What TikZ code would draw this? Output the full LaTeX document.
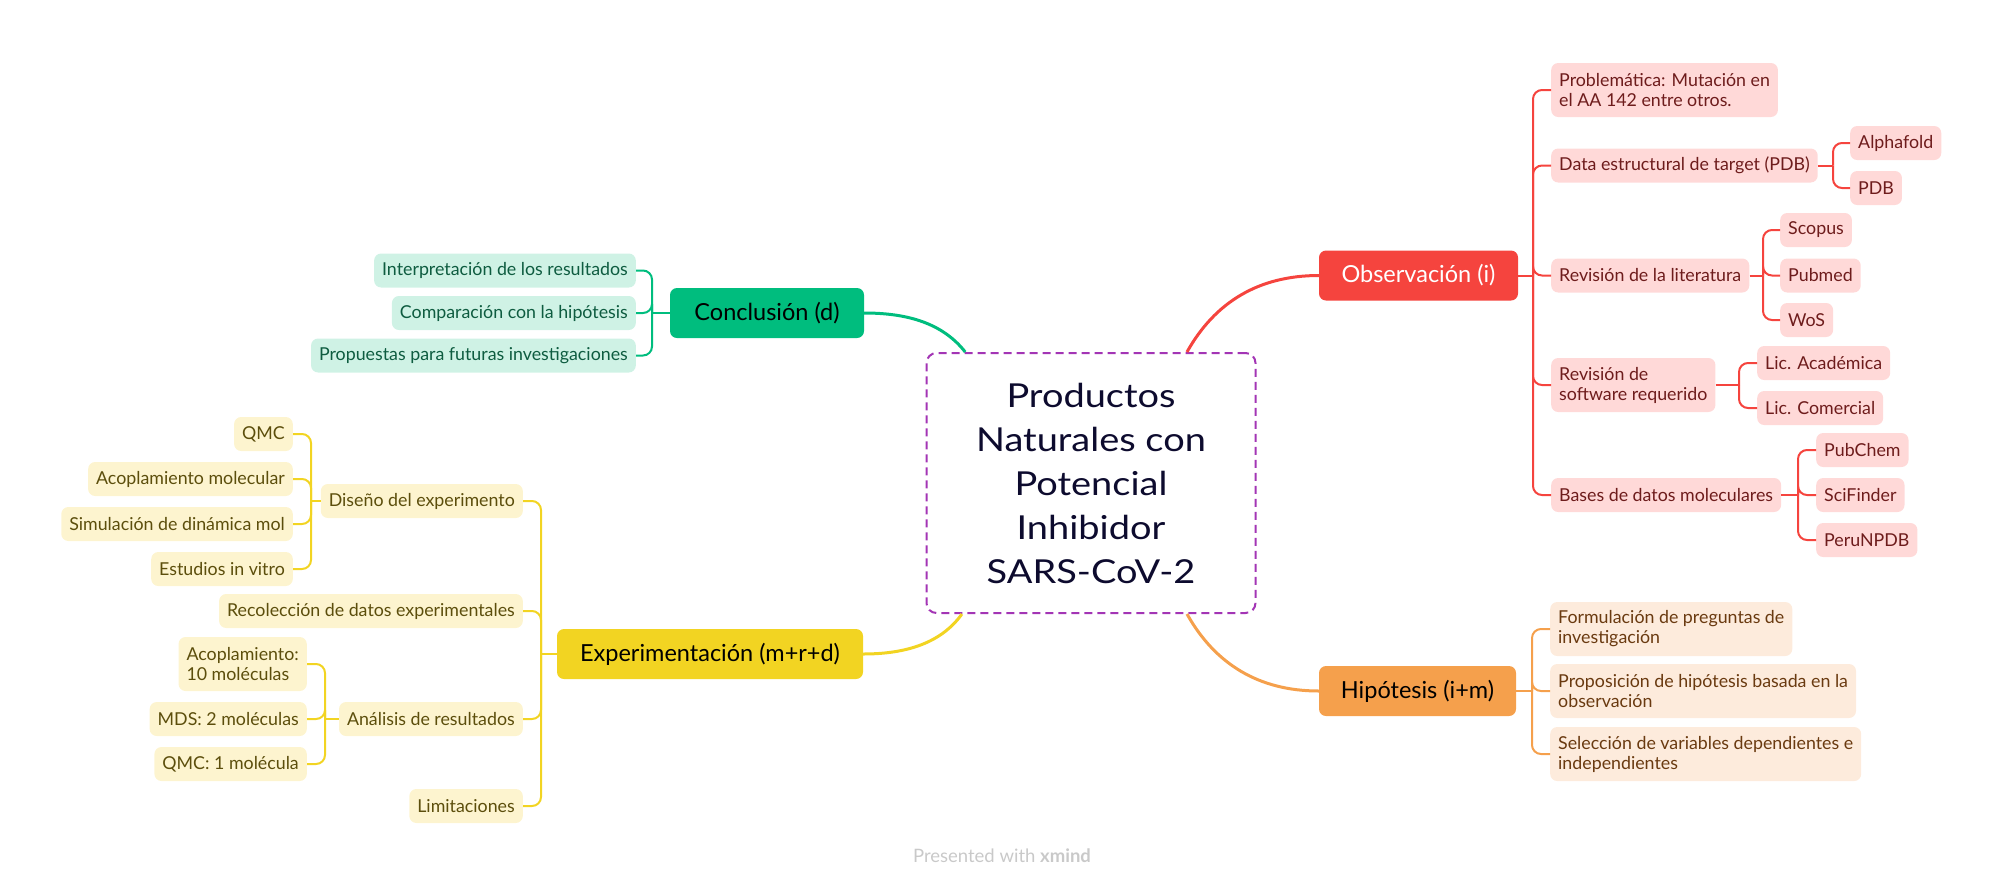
\documentclass[tikz,border=0pt]{standalone}
\usepackage{fontspec}
\setmainfont{Lato}
\newfontfamily\centralfont[FakeStretch=1.15]{Lato}
\usetikzlibrary{calc}
\definecolor{obsred}{HTML}{F5443E}
\definecolor{rfill}{HTML}{FFD9D8}
\definecolor{rtext}{HTML}{6E1C1C}
\definecolor{hyporange}{HTML}{F5A04C}
\definecolor{ofill}{HTML}{FDEBDC}
\definecolor{otext}{HTML}{6A3A10}
\definecolor{congreen}{HTML}{00BD7E}
\definecolor{gfill}{HTML}{CFF2E5}
\definecolor{gtext}{HTML}{0E5C40}
\definecolor{expyellow}{HTML}{F2D422}
\definecolor{yfill}{HTML}{FDF4CF}
\definecolor{ytext}{HTML}{5C4E0C}
\definecolor{purp}{HTML}{A335B5}
\definecolor{navy}{HTML}{0D0B2E}
\definecolor{footgray}{HTML}{C9C9C9}
\begin{document}
\begin{tikzpicture}[x=1pt,y=-1pt,
  leaf/.style={font=\fontsize{17.8}{20}\selectfont, rounded corners=7pt, inner xsep=8pt, inner ysep=7pt, minimum height=34pt, align=left},
  rleaf/.style={leaf, fill=rfill, text=rtext, anchor=west},
  oleaf/.style={leaf, fill=ofill, text=otext, anchor=west},
  gleaf/.style={leaf, fill=gfill, text=gtext, anchor=east},
  yleaf/.style={leaf, fill=yfill, text=ytext, anchor=east},
  topic/.style={font=\fontsize{23.5}{26}\selectfont, rounded corners=7pt, minimum height=50pt, inner sep=0pt, align=center},
  central/.style={draw=purp, dash pattern=on 8pt off 5pt, line width=2pt, rounded corners=10pt, fill=white, minimum width=329pt, minimum height=260pt, inner sep=0pt, align=center, font=\centralfont\fontsize{33}{44}\selectfont, text=navy},
  rlink/.style={draw=obsred, line width=2pt, rounded corners=9pt},
  olink/.style={draw=hyporange, line width=2pt, rounded corners=9pt},
  glink/.style={draw=congreen, line width=2pt, rounded corners=9pt},
  ylink/.style={draw=expyellow, line width=2pt, rounded corners=9pt},
  mainlink/.style={line width=3pt}
]
\useasboundingbox (0,0) rectangle (2006,887);

% central
\node[central] (c) at (1091,483) {Productos\\Naturales con\\Potencial\\Inhibidor\\SARS-CoV-2};

% main topics
\node[topic, fill=obsred, text=white, minimum width=199pt] (obs) at (1418.5,275.5) {Observación (i)};
\node[topic, fill=hyporange, text=black, minimum width=197pt] (hyp) at (1417.5,691) {Hipótesis (i+m)};
\node[topic, fill=congreen, text=black, minimum width=194pt] (con) at (767,313) {Conclusión (d)};
\node[topic, fill=expyellow, text=black, minimum width=306pt] (exp) at (710,654) {Experimentación (m+r+d)};

% main connectors
\coordinate (cNE) at ($(c.north west)!0.79!(c.north east)$);
\coordinate (cNW) at ($(c.north west)!0.12!(c.north east)$);
\coordinate (cSE) at ($(c.south west)!0.79!(c.south east)$);
\coordinate (cSW) at ($(c.south west)!0.11!(c.south east)$);
\draw[mainlink, obsred] (cNE) .. controls +(28,-50) and +(-60,0) .. (obs.west);
\draw[mainlink, hyporange] (cSE) .. controls +(28,50) and +(-60,0) .. (hyp.west);
\draw[mainlink, congreen] (cNW) .. controls +(-22,-28) and +(45,0) .. (con.east);
\draw[mainlink, expyellow] (cSW) .. controls +(-20,28) and +(45,0) .. (exp.east);

% ---------------- Observacion
\node[rleaf, minimum height=54pt] (prob) at (1551,90) {Problemática: Mutación en\\el AA 142 entre otros.};
\node[rleaf] (data) at (1551,165.5) {Data estructural de target (PDB)};
\node[rleaf] (alpha) at (1850,143) {Alphafold};
\node[rleaf] (pdb) at (1850,188) {PDB};
\node[rleaf] (revlit) at (1551,275.5) {Revisión de la literatura};
\node[rleaf] (scopus) at (1780,230) {Scopus};
\node[rleaf] (pubmed) at (1780,275.5) {Pubmed};
\node[rleaf] (wos) at (1780,320) {WoS};
\node[rleaf, minimum height=54pt] (soft) at (1551,385) {Revisión de\\software requerido};
\node[rleaf] (lica) at (1757,363) {Lic. Académica};
\node[rleaf] (licc) at (1757,408) {Lic. Comercial};
\node[rleaf] (bases) at (1551,495) {Bases de datos moleculares};
\node[rleaf] (pubchem) at (1816,450) {PubChem};
\node[rleaf] (scif) at (1816,495) {SciFinder};
\node[rleaf] (peru) at (1816,540) {PeruNPDB};

\coordinate (obsX) at ($(prob.west)+(-18,0)$);
\coordinate (obsS) at (obsX |- obs.east);
\draw[rlink] (obs.east) -- (obsS);
\foreach \n in {prob,data,revlit,soft,bases} \draw[rlink] (obsS) |- (\n.west);
\coordinate (dataX) at ($(alpha.west)+(-17,0)$);
\coordinate (dataS) at (dataX |- data.east);
\draw[rlink] (data.east) -- (dataS);
\foreach \n in {alpha,pdb} \draw[rlink] (dataS) |- (\n.west);
\coordinate (revX) at ($(scopus.west)+(-17,0)$);
\coordinate (revS) at (revX |- revlit.east);
\draw[rlink] (revlit.east) -- (revS);
\foreach \n in {scopus,pubmed,wos} \draw[rlink] (revS) |- (\n.west);
\coordinate (softX) at ($(lica.west)+(-18,0)$);
\coordinate (softS) at (softX |- soft.east);
\draw[rlink] (soft.east) -- (softS);
\foreach \n in {lica,licc} \draw[rlink] (softS) |- (\n.west);
\coordinate (basX) at ($(pubchem.west)+(-18,0)$);
\coordinate (basS) at (basX |- bases.east);
\draw[rlink] (bases.east) -- (basS);
\foreach \n in {pubchem,scif,peru} \draw[rlink] (basS) |- (\n.west);

% ---------------- Hipotesis
\node[oleaf, minimum height=54pt] (form) at (1550,629) {Formulación de preguntas de\\investigación};
\node[oleaf, minimum height=54pt] (propo) at (1550,691) {Proposición de hipótesis basada en la\\observación};
\node[oleaf, minimum height=54pt] (sel) at (1550,754) {Selección de variables dependientes e\\independientes};
\coordinate (hypX) at ($(form.west)+(-18,0)$);
\coordinate (hypS) at (hypX |- hyp.east);
\draw[olink] (hyp.east) -- (hypS);
\foreach \n in {form,propo,sel} \draw[olink] (hypS) |- (\n.west);

% ---------------- Conclusion
\node[gleaf] (interp) at (636,270.5) {Interpretación de los resultados};
\node[gleaf] (comp) at (636,313) {Comparación con la hipótesis};
\node[gleaf] (fut) at (636,355.5) {Propuestas para futuras investigaciones};
\coordinate (conX) at ($(interp.east)+(16,0)$);
\coordinate (conS) at (conX |- con.west);
\draw[glink] (con.west) -- (conS);
\foreach \n in {interp,comp,fut} \draw[glink] (conS) |- (\n.east);

% ---------------- Experimentacion
\node[yleaf] (dis) at (523,501) {Diseño del experimento};
\node[yleaf] (qmc) at (293,434) {QMC};
\node[yleaf] (acm) at (293,479) {Acoplamiento molecular};
\node[yleaf] (sim) at (293,524) {Simulación de dinámica mol};
\node[yleaf] (est) at (293,569) {Estudios in vitro};
\node[yleaf] (rec) at (523,611) {Recolección de datos experimentales};
\node[yleaf] (ana) at (523,719) {Análisis de resultados};
\node[yleaf, minimum height=54pt] (ac10) at (307,664) {Acoplamiento:\\10 moléculas};
\node[yleaf] (mds) at (307,719) {MDS: 2 moléculas};
\node[yleaf] (qmc1) at (307,764) {QMC: 1 molécula};
\node[yleaf] (lim) at (523,806) {Limitaciones};

\coordinate (expX) at ($(dis.east)+(18,0)$);
\coordinate (expS) at (expX |- exp.west);
\draw[ylink] (exp.west) -- (expS);
\foreach \n in {dis,rec,ana,lim} \draw[ylink] (expS) |- (\n.east);
\coordinate (disX) at ($(qmc.east)+(18,0)$);
\coordinate (disS) at (disX |- dis.west);
\draw[ylink] (dis.west) -- (disS);
\foreach \n in {qmc,acm,sim,est} \draw[ylink] (disS) |- (\n.east);
\coordinate (anaX) at ($(mds.east)+(18,0)$);
\coordinate (anaS) at (anaX |- ana.west);
\draw[ylink] (ana.west) -- (anaS);
\foreach \n in {ac10,mds,qmc1} \draw[ylink] (anaS) |- (\n.east);

% footer
\node[font=\fontsize{18.5}{20}\selectfont, text=footgray] (foot) at (1002,856) {Presented with \textbf{xmind}};
\end{tikzpicture}
\end{document}
